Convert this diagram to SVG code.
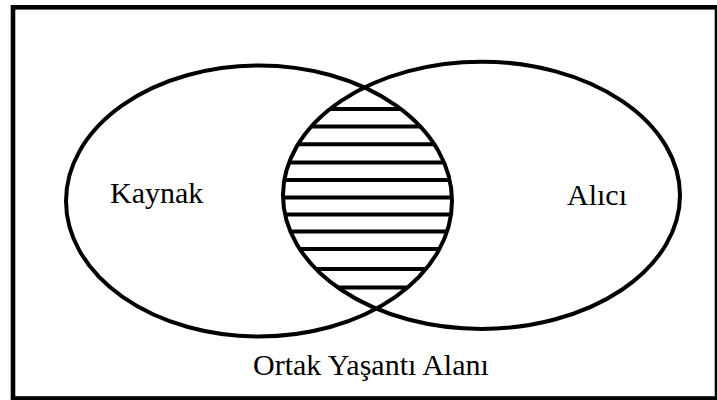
<svg xmlns="http://www.w3.org/2000/svg" width="717" height="400" viewBox="0 0 717 400">
<style>
.shape{fill:none;stroke:#000;stroke-width:4}
.hatch{stroke:#000;stroke-width:4}
.lbl{font-family:"Liberation Serif","Times New Roman",serif;font-size:30px;fill:#000}
</style>
<defs>
<clipPath id="clipL"><ellipse cx="259" cy="201" rx="193" ry="135.5"/></clipPath>
<clipPath id="clipR"><ellipse cx="481.5" cy="195.3" rx="198.5" ry="133.6"/></clipPath>
</defs>
<rect x="0" y="0" width="717" height="400" fill="#fff"/>
<g id="frame"><rect x="13" y="7.3" width="704" height="391.2" fill="none" stroke="#000" stroke-width="4.6"/></g>
<g id="overlap" clip-path="url(#clipL)">
<g clip-path="url(#clipR)">
<line class="hatch" x1="250" y1="109" x2="500" y2="109"/>
<line class="hatch" x1="250" y1="126.5" x2="500" y2="126.5"/>
<line class="hatch" x1="250" y1="144.3" x2="500" y2="144.3"/>
<line class="hatch" x1="250" y1="162.5" x2="500" y2="162.5"/>
<line class="hatch" x1="250" y1="180" x2="500" y2="180"/>
<line class="hatch" x1="250" y1="197.5" x2="500" y2="197.5"/>
<line class="hatch" x1="250" y1="214.5" x2="500" y2="214.5"/>
<line class="hatch" x1="250" y1="231.5" x2="500" y2="231.5"/>
<line class="hatch" x1="250" y1="249" x2="500" y2="249"/>
<line class="hatch" x1="250" y1="269" x2="500" y2="269"/>
<line class="hatch" x1="250" y1="287.5" x2="500" y2="287.5"/>
</g>
</g>
<g id="kaynak"><ellipse class="shape" cx="259" cy="201" rx="193" ry="135.5"/><text class="lbl" x="110" y="202.5">Kaynak</text></g>
<g id="alici"><ellipse class="shape" cx="481.5" cy="195.3" rx="198.5" ry="133.6"/><text class="lbl" x="567" y="205">Alıcı</text></g>
<g id="ortak"><text class="lbl" x="253" y="375">Ortak Yaşantı Alanı</text></g>
</svg>
